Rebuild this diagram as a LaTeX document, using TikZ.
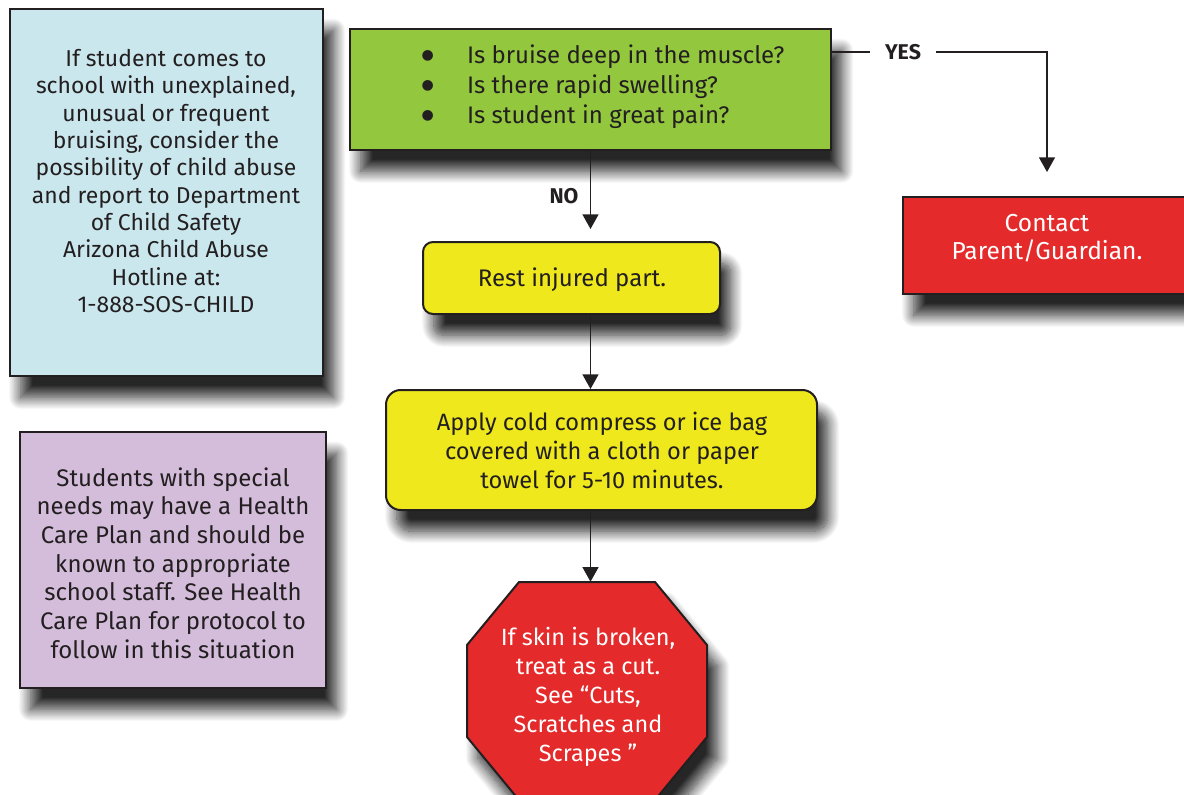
\documentclass[tikz,border=0pt]{standalone}
\usepackage{fontspec}
\setmainfont{Fira Sans}
\newfontfamily\dotfont{DejaVu Sans}
\usetikzlibrary{arrows.meta,shadows.blur,fit,calc}

\definecolor{ink}{HTML}{231F20}
\definecolor{skyfill}{HTML}{CAE7ED}
\definecolor{lilacfill}{HTML}{D4BDDB}
\definecolor{leaffill}{HTML}{93C83E}
\definecolor{lemonfill}{HTML}{EEE81C}
\definecolor{alertfill}{HTML}{E42A2B}

% list bullet: a solid round dot followed by a fixed indent
\newcommand{\bigdot}{\makebox[34pt][l]{\raisebox{3.6pt}{\dotfont\fontsize{10.5}{10.5}\selectfont ●}}}

\begin{document}
\begin{tikzpicture}[x=0.75pt,y=-0.75pt,
  softshadow/.style={blur shadow={shadow xshift=8pt, shadow yshift=-16pt,
      shadow blur radius=9pt, shadow blur steps=16, shadow opacity=85}},
  panel/.style={draw=ink, line width=1.5pt, inner sep=0pt, softshadow},
  body/.style={font=\fontsize{18}{21.5}\selectfont, align=center, text=ink},
  tag/.style={font=\fontsize{16}{18}\bfseries\selectfont, text=ink, inner xsep=11pt},
  link/.style={draw=ink, line width=1.1pt},
  arrowlink/.style={link, -{Triangle[width=12pt,length=11pt]}}
]
\useasboundingbox (0,0) rectangle (1184,795);

% side notes
\node[panel, fill=skyfill, fit={(10,9) (323,376)}] (abuse) {};
\node[body, font=\fontsize{17.2}{20.5}\selectfont] (abuseText) at (166,181)
  {If student comes to\\school with unexplained,\\unusual or frequent\\bruising, consider the\\possibility of child abuse\\and report to Department\\of Child Safety\\Arizona Child Abuse\\Hotline at:\\1-888-SOS-CHILD};

\node[panel, fill=lilacfill, fit={(20,432) (326,688)}] (plan) {};
\node[body] (planText) at (173,563)
  {Students with special\\needs may have a Health\\Care Plan and should be\\known to appropriate\\school staff. See Health\\Care Plan for protocol to\\follow in this situation};

% question box
\node[panel, fill=leaffill, fit={(350,29) (831,150)}] (quest) {};
\node[body, align=left, anchor=west, font=\fontsize{18}{22.5}\selectfont] (questText) at (417,87)
  {\bigdot Is bruise deep in the muscle?\\
   \bigdot Is there rapid swelling?\\
   \bigdot Is student in great pain?};

% yes branch
\node[tag] (yes) at (903,52) {YES};
\node[panel, fill=alertfill, fit={(903,197) (1191,294)}] (parent) {};
\node[body, text=white, font=\fontsize{18.4}{21}\selectfont] (parentText) at (1047,238)
  {Contact\\Parent/Guardian.};

% no branch
\node[tag] (no) at (564,196) {NO};
\node[panel, fill=lemonfill, rounded corners=7.5pt, fit={(423,242) (720,314)}] (rest) {};
\node[body] (restText) at (572,280) {Rest injured part.};
\node[panel, fill=lemonfill, rounded corners=11pt, fit={(386,390) (817,510)}] (cold) {};
\node[body, font=\fontsize{17.7}{21.75}\selectfont] (coldText) at (602,450)
  {Apply cold compress or ice bag\\covered with a cloth or paper\\towel for 5-10 minutes.};

% stop sign
\path[draw=ink, line width=1.5pt, fill=alertfill, softshadow]
  (519,582) -- (655,582) -- (707,645) -- (707,737) -- (655,800)
  -- (519,800) -- (467,737) -- (467,645) -- cycle;
\node[inner sep=0pt, fit={(467,582) (707,800)}] (cut) {};
\node[body, text=white, font=\fontsize{17.6}{21.75}\selectfont] (cutText) at (588,697)
  {If skin is broken,\\treat as a cut.\\See “Cuts,\\Scratches and\\Scrapes ”};

% connectors
\draw[link] (quest.east |- yes) -- (yes.west);
\draw[arrowlink, shorten >=18pt] (yes.east) -| (parent.north);
\draw[arrowlink, shorten >=9pt] (quest.south) -- (quest.south |- rest.north);
\draw[arrowlink] (rest.south -| quest.south) -- (cold.north -| quest.south);
\draw[arrowlink] (cold.south -| quest.south) -- (cut.north -| quest.south);
\end{tikzpicture}
\end{document}
